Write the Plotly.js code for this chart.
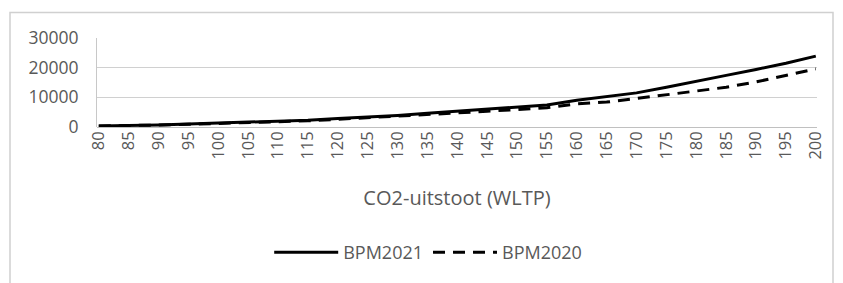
<!DOCTYPE html>
<html>
<head>
<meta charset="utf-8">
<script src="https://cdn.plot.ly/plotly-3.0.1.min.js"></script>
<style>
html,body{margin:0;padding:0;background:#fff;}
#chart{width:843px;height:283px;}
</style>
</head>
<body>
<div id="chart"></div>
<script>
const co2 = [80,85,90,95,100,105,110,115,120,125,130,135,140,145,150,155,160,165,170,175,180,185,190,195,200];
const bpm2021 = [350,450,700,1000,1300,1550,1900,2300,2900,3300,3900,4600,5300,6000,6600,7400,9000,10200,11500,13400,15500,17400,19400,21500,23900];
const bpm2020 = [350,450,650,900,1150,1400,1700,2100,2600,3100,3600,4100,4700,5300,5900,6500,7800,8400,9600,10800,12000,13400,15200,17300,19600];
const yTicks = [0,10000,20000,30000];
const xTitle = 'CO2-uitstoot (WLTP)';

const FONT = 'Open Sans, sans-serif';
const GREY = '#595959';

const traces = [
  {x: co2, y: bpm2021, type:'scatter', mode:'lines', name:'BPM2021',
   line:{color:'#000000', width:3}},
  {x: co2, y: bpm2020, type:'scatter', mode:'lines', name:'BPM2020',
   line:{color:'#000000', width:3, dash:'12px,8px'}}
];

const layout = {
  width:843, height:283,
  margin:{l:97, r:26, t:38, b:154},
  paper_bgcolor:'#ffffff', plot_bgcolor:'#ffffff',
  font:{family:FONT, color:GREY, size:15},
  showlegend:true,
  legend:{orientation:'h', x:0.46, xanchor:'center', y:-1.41, yanchor:'middle',
          font:{family:FONT, size:18, color:GREY}, itemwidth:64, tracegroupgap:0},
  xaxis:{
    type:'linear', range:[79.7,200.2], tickmode:'array', tickvals:co2,
    ticktext:co2.map(String), tickangle:-90, showgrid:false, zeroline:false,
    showline:false, ticks:'', tickfont:{family:FONT, size:16.5, color:GREY},
    title:{text:xTitle, font:{family:FONT, size:20, color:GREY}, standoff:32}
  },
  yaxis:{
    range:[0,30000], tickmode:'array', tickvals:yTicks, ticktext:yTicks.map(String),
    showgrid:true, gridcolor:'#d0d0d0', gridwidth:1, zeroline:true, zerolinecolor:'#c0c0c0',
    zerolinewidth:1, showline:true, linecolor:'#c8c8c8', linewidth:1, ticks:'',
    ticklabelstandoff:14, tickfont:{family:FONT, size:17.5, color:GREY}
  },
  shapes:[{type:'rect', xref:'paper', yref:'paper',
           x0:(10-97)/720, x1:(833-97)/720, y0:(129-300)/91, y1:(129-12)/91,
           line:{color:'#d0d0d0', width:1.5}, fillcolor:'rgba(0,0,0,0)', layer:'below'}]
};

Plotly.newPlot('chart', traces, layout, {displayModeBar:false, staticPlot:true});
</script>
</body>
</html>
